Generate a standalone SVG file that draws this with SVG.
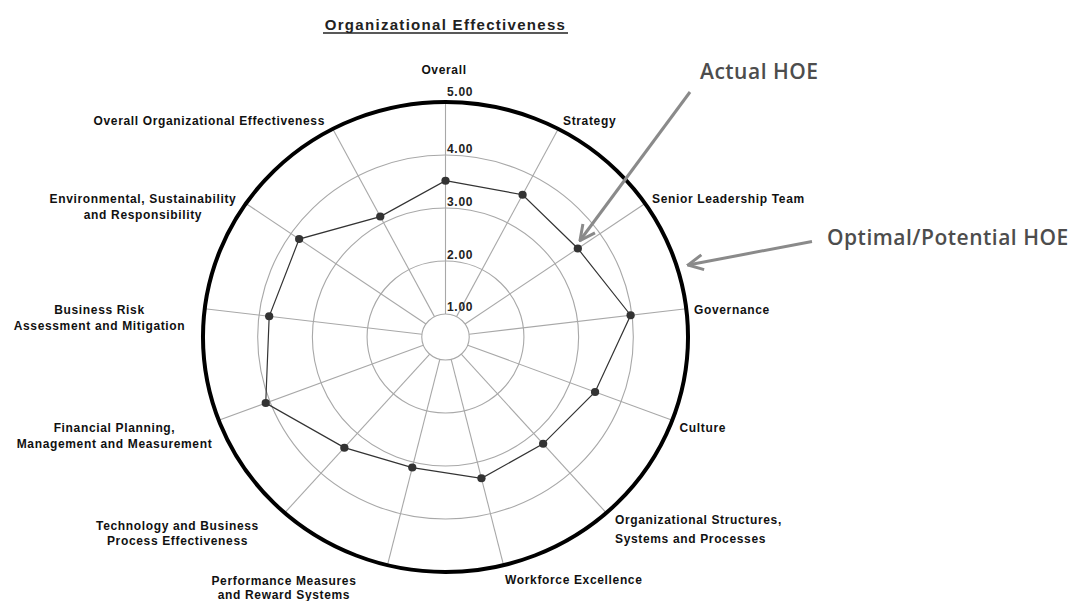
<svg xmlns="http://www.w3.org/2000/svg" width="1080" height="601" viewBox="0 0 1080 601">
<defs>
<style>
.ring{fill:none;stroke:#a8a8a8;stroke-width:1.1;vector-effect:non-scaling-stroke}
.outer{fill:none;stroke:#000;stroke-width:4;vector-effect:non-scaling-stroke}
.spoke{stroke:#a8a8a8;stroke-width:1.1;vector-effect:non-scaling-stroke}
.data{fill:none;stroke:#333;stroke-width:1.2;vector-effect:non-scaling-stroke}
.dot{fill:#333}
.lbl{font-family:"Liberation Sans",Arial,sans-serif;font-weight:bold;font-size:12px;letter-spacing:0.65px;fill:#111}
.scale{font-family:"Liberation Sans",Arial,sans-serif;font-weight:bold;font-size:12px;letter-spacing:0.7px;fill:#222}
.ann{font-family:"Open Sans","Noto Sans",sans-serif;font-weight:600;font-size:21px;letter-spacing:0.5px;fill:#4d4d4d}
.arrow{fill:none;stroke:#8a8a8a;stroke-width:3;marker-end:url(#chev)}
</style>
<marker id="chev" viewBox="0 0 12 12" refX="11" refY="6" markerWidth="18" markerHeight="18" markerUnits="userSpaceOnUse" orient="auto">
<path d="M1,1 L11,6 L1,11" fill="none" stroke="#8a8a8a" stroke-width="2"/>
</marker>
</defs>
<rect width="1080" height="601" fill="#fff"/>

<g id="title">
<text x="445.5" y="30" text-anchor="middle" font-family="Liberation Sans, Arial, sans-serif" font-weight="bold" font-size="15" letter-spacing="1.3" fill="#222">Organizational Effectiveness</text>
<line x1="323" y1="33" x2="568" y2="33" stroke="#222" stroke-width="1.3"/>
</g>

<g id="chart" transform="translate(445.5,337) scale(1.032,1)">
<g id="rings">
<circle class="ring" r="23"/>
<circle class="ring" r="76"/>
<circle class="ring" r="129"/>
<circle class="ring" r="182"/>
</g>
<g id="spokes">
<line class="spoke" x1="0" y1="-23" x2="0" y2="-235"/>
<line class="spoke" x1="10.69" y1="-20.37" x2="109.20" y2="-208.09"/>
<line class="spoke" x1="18.93" y1="-13.07" x2="193.41" y2="-133.50"/>
<line class="spoke" x1="22.83" y1="-2.77" x2="233.28" y2="-28.32"/>
<line class="spoke" x1="21.51" y1="8.16" x2="219.73" y2="83.33"/>
<line class="spoke" x1="15.25" y1="17.22" x2="155.83" y2="175.90"/>
<line class="spoke" x1="5.50" y1="22.33" x2="56.24" y2="228.16"/>
<line class="spoke" x1="-5.50" y1="22.33" x2="-56.24" y2="228.16"/>
<line class="spoke" x1="-15.25" y1="17.22" x2="-155.83" y2="175.90"/>
<line class="spoke" x1="-21.51" y1="8.16" x2="-219.73" y2="83.33"/>
<line class="spoke" x1="-22.83" y1="-2.77" x2="-233.28" y2="-28.32"/>
<line class="spoke" x1="-18.93" y1="-13.07" x2="-193.41" y2="-133.50"/>
<line class="spoke" x1="-10.69" y1="-20.37" x2="-109.20" y2="-208.09"/>
</g>
<circle id="optimal" class="outer" r="235"/>
<g id="actual">
<polygon class="data" points="0,-156.3 74.68,-142.30 128.22,-88.51 179.38,-21.77 144.93,54.96 94.62,106.81 34.84,141.36 -32.19,130.59 -98.01,110.63 -174.19,66.06 -170.84,-20.74 -141.80,-97.88 -63.20,-120.43"/>
<circle class="dot" cx="0" cy="-156.3" r="4"/>
<circle class="dot" cx="74.68" cy="-142.30" r="4"/>
<circle class="dot" cx="128.22" cy="-88.51" r="4"/>
<circle class="dot" cx="179.38" cy="-21.77" r="4"/>
<circle class="dot" cx="144.93" cy="54.96" r="4"/>
<circle class="dot" cx="94.62" cy="106.81" r="4"/>
<circle class="dot" cx="34.84" cy="141.36" r="4"/>
<circle class="dot" cx="-32.19" cy="130.59" r="4"/>
<circle class="dot" cx="-98.01" cy="110.63" r="4"/>
<circle class="dot" cx="-174.19" cy="66.06" r="4"/>
<circle class="dot" cx="-170.84" cy="-20.74" r="4"/>
<circle class="dot" cx="-141.80" cy="-97.88" r="4"/>
<circle class="dot" cx="-63.20" cy="-120.43" r="4"/>
</g>
</g>

<g id="scale-labels">
<text class="scale" x="447" y="96">5.00</text>
<text class="scale" x="447" y="152.6">4.00</text>
<text class="scale" x="447" y="206">3.00</text>
<text class="scale" x="447" y="259.3">2.00</text>
<text class="scale" x="447" y="311">1.00</text>
</g>

<g id="axis-overall"><text class="lbl" x="444" y="73.5" text-anchor="middle">Overall</text></g>
<g id="axis-strategy"><text class="lbl" x="563" y="125">Strategy</text></g>
<g id="axis-senior"><text class="lbl" x="652" y="202.6">Senior Leadership Team</text></g>
<g id="axis-governance"><text class="lbl" x="694" y="314.3">Governance</text></g>
<g id="axis-culture"><text class="lbl" x="679.5" y="432">Culture</text></g>
<g id="axis-orgstruct"><text class="lbl" x="615" y="524.3">Organizational Structures,</text><text class="lbl" x="615" y="543.3">Systems and Processes</text></g>
<g id="axis-workforce"><text class="lbl" x="505" y="584.3">Workforce Excellence</text></g>
<g id="axis-performance"><text class="lbl" x="284" y="585" text-anchor="middle">Performance Measures</text><text class="lbl" x="284" y="599.3" text-anchor="middle">and Reward Systems</text></g>
<g id="axis-technology"><text class="lbl" x="177.5" y="530.3" text-anchor="middle">Technology and Business</text><text class="lbl" x="177.5" y="545" text-anchor="middle">Process Effectiveness</text></g>
<g id="axis-financial"><text class="lbl" x="114.5" y="432" text-anchor="middle">Financial Planning,</text><text class="lbl" x="114.5" y="447.6" text-anchor="middle">Management and Measurement</text></g>
<g id="axis-risk"><text class="lbl" x="99.5" y="314.3" text-anchor="middle">Business Risk</text><text class="lbl" x="99.5" y="330" text-anchor="middle">Assessment and Mitigation</text></g>
<g id="axis-environment"><text class="lbl" x="143" y="202.6" text-anchor="middle">Environmental, Sustainability</text><text class="lbl" x="143" y="219.3" text-anchor="middle">and Responsibility</text></g>
<g id="axis-overall-org"><text class="lbl" x="325" y="125.3" text-anchor="end">Overall Organizational Effectiveness</text></g>

<g id="ann-actual"><text class="ann" x="700" y="79">Actual HOE</text></g>
<g id="ann-optimal"><text class="ann" x="827" y="245">Optimal/Potential HOE</text></g>

<g id="connectors">
<line class="arrow" x1="690" y1="92" x2="580" y2="240.5"/>
<line class="arrow" x1="812" y1="241.5" x2="688" y2="265"/>
</g>
</svg>
